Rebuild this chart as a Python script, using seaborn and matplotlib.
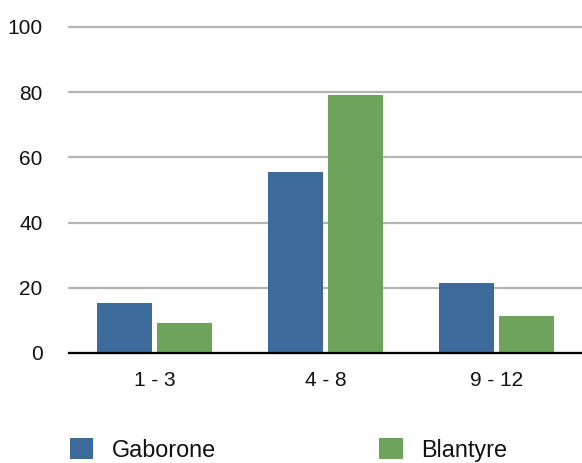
import matplotlib
matplotlib.use("Agg")
import matplotlib.pyplot as plt
import seaborn as sns
import pandas as pd
from matplotlib.patches import Patch

# Share of respondents by age group in each city
categories = ["1 - 3", "4 - 8", "9 - 12"]
gaborone = [15.3, 55.5, 21.5]
blantyre = [9.2, 79.0, 11.3]
series_names = ["Gaborone", "Blantyre"]
colors = ["#3C6A9B", "#6DA35A"]

df = pd.DataFrame({
    "group": categories * 2,
    "value": gaborone + blantyre,
    "city": [series_names[0]] * 3 + [series_names[1]] * 3,
})

sns.set_style("white")
plt.rcParams["font.family"] = ["Liberation Sans", "DejaVu Sans"]

W, H = 582, 463
fig = plt.figure(figsize=(W / 100, H / 100), dpi=100)
ax = fig.add_axes([69 / W, 1 - 353 / H, 1 - 69 / W, (353 - 27) / H])

sns.barplot(data=df, x="group", y="value", hue="city", palette=colors,
            width=0.7, gap=0.08, saturation=1, linewidth=0,
            ax=ax, legend=False)

ax.set_ylim(0, 100)
ax.set_xlim(-0.5, 2.5)
ax.set_yticks([0, 20, 40, 60, 80, 100])
ax.yaxis.grid(True, color="#b4b4b4", linewidth=1.6)
for gl in ax.get_ygridlines():
    gl.set_clip_on(False)
ax.set_axisbelow(True)
ax.set_xlabel("")
ax.set_ylabel("")
for s in ["top", "right", "left"]:
    ax.spines[s].set_visible(False)
ax.spines["bottom"].set_color("black")
ax.spines["bottom"].set_linewidth(1.6)
ax.tick_params(axis="y", length=0, pad=19, labelsize=15, labelcolor="#111111")
ax.tick_params(axis="x", length=0, pad=13, labelsize=15, labelcolor="#111111")

handles = [Patch(facecolor=c, edgecolor="none") for c in colors]
fig.legend(handles, series_names, loc="center left",
           bbox_to_anchor=(70 / W, 1 - 450 / H), ncol=2, frameon=False,
           fontsize=16.8, handlelength=1.0, handleheight=1.0,
           handletextpad=0.8, columnspacing=7.0, borderpad=0, borderaxespad=0,
           labelcolor="#111111")

fig.savefig("out.png", dpi=100)
